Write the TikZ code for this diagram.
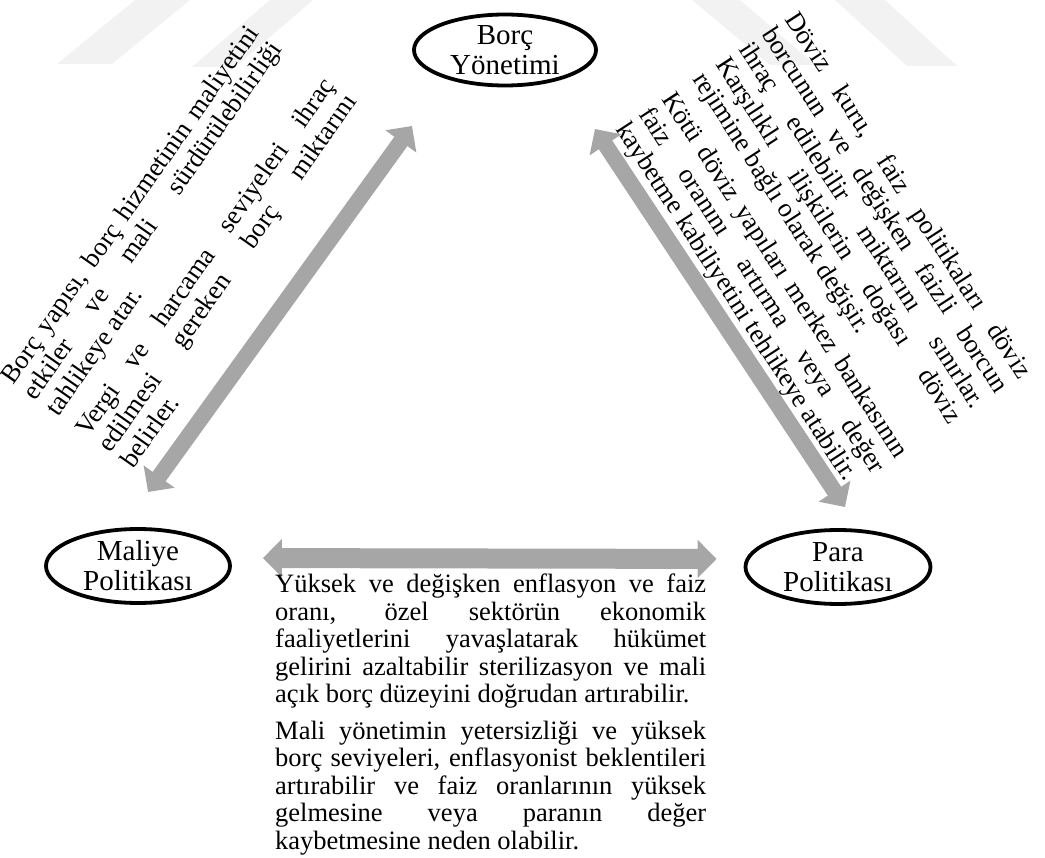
\documentclass[tikz,border=0pt]{standalone}
\usepackage{fontspec}
\setmainfont{Liberation Serif}
\usepackage{xcolor}
\usetikzlibrary{arrows.meta,shapes.geometric}

\definecolor{arrgray}{RGB}{166,166,166}
\definecolor{wmgray}{RGB}{242,242,242}

\setlength{\parindent}{0pt}
\hyphenpenalty=10000
\tolerance=10000
\newcommand{\paragap}{\par\vspace{9pt}}

\begin{document}
\begin{tikzpicture}[x=1pt,y=-1pt,
	oval/.style={ellipse,draw=black,line width=3.8pt,inner sep=0pt,
		minimum width=182pt,minimum height=71pt,align=center,
		font=\fontsize{29}{30}\selectfont},
	blockarrow/.style={draw=arrgray,line width=16pt,
		{Triangle[length=19pt,width=37pt]}-{Triangle[length=19pt,width=37pt]}},
	note/.style={inner sep=0pt,text width=431pt,align=justify,
		font=\fontsize{26.5}{27.5}\selectfont}]
	\useasboundingbox (0,0) rectangle (1045,858);

	% faint background bands
	\fill[wmgray] (57,64) -- (112,64) -- (190,0) -- (135,0) -- cycle;
	\fill[wmgray] (192,67) -- (235,67) -- (313,0) -- (270,0) -- cycle;
	\fill[wmgray] (692,0) -- (740,0) -- (815,65) -- (770,65) -- cycle;
	\fill[wmgray] (835,0) -- (885,0) -- (957,66) -- (907,66) -- cycle;

	\node[oval] (borc) at (505,50) {Borç\\Yönetimi};
	\node[oval,minimum width=184pt,minimum height=74pt] (maliye) at (138,566) {Maliye\\Politikası};
	\node[oval,minimum width=185pt,minimum height=74pt] (para) at (838,567) {Para\\Politikası};

	\coordinate (lt) at (412,126);
	\coordinate (lb) at (148,492);
	\coordinate (rt) at (595,129);
	\coordinate (rb) at (845,507);
	\draw[blockarrow] (lb) -- (lt);
	\draw[blockarrow] (rt) -- (rb);
	\draw[blockarrow,line width=20pt,shorten <=31pt,shorten >=27pt] ([yshift=8pt]maliye.east) -- ([yshift=8pt]para.west);

	\node[note,text width=430pt,rotate=55,anchor=north west] (maliyetxt) at (-2,375)
		{Borç yapısı, borç hizmetinin maliyetini\linebreak etkiler ve mali sürdürülebilirliği\linebreak tahlikeye atar.\paragap
		Vergi ve harcama seviyeleri ihraç\linebreak edilmesi gereken borç miktarını\linebreak belirler.};
	\node[note,text width=430pt,rotate=-57,anchor=north west] (paratxt) at (800,9)
		{Döviz kuru, faiz politikaları döviz\linebreak borcunun ve değişken faizli borcun\linebreak ihraç edilebilir miktarını sınırlar.\linebreak Karşılıklı ilişkilerin doğası döviz\linebreak rejimine bağlı olarak değişir.\paragap
		Kötü döviz yapıları merkez bankasının\linebreak faiz oranını artırma veya değer\linebreak kaybetme kabiliyetini tehlikeye atabilir.};
	\node[note,anchor=north west] (ortaktxt) at (275,574)
		{Yüksek ve değişken enflasyon ve faiz\linebreak oranı, özel sektörün ekonomik\linebreak faaliyetlerini yavaşlatarak hükümet\linebreak gelirini azaltabilir sterilizasyon ve mali\linebreak açık borç düzeyini doğrudan artırabilir.\paragap
		Mali yönetimin yetersizliği ve yüksek\linebreak borç seviyeleri, enflasyonist beklentileri\linebreak artırabilir ve faiz oranlarının yüksek\linebreak gelmesine veya paranın değer\linebreak kaybetmesine neden olabilir.};
\end{tikzpicture}
\end{document}
